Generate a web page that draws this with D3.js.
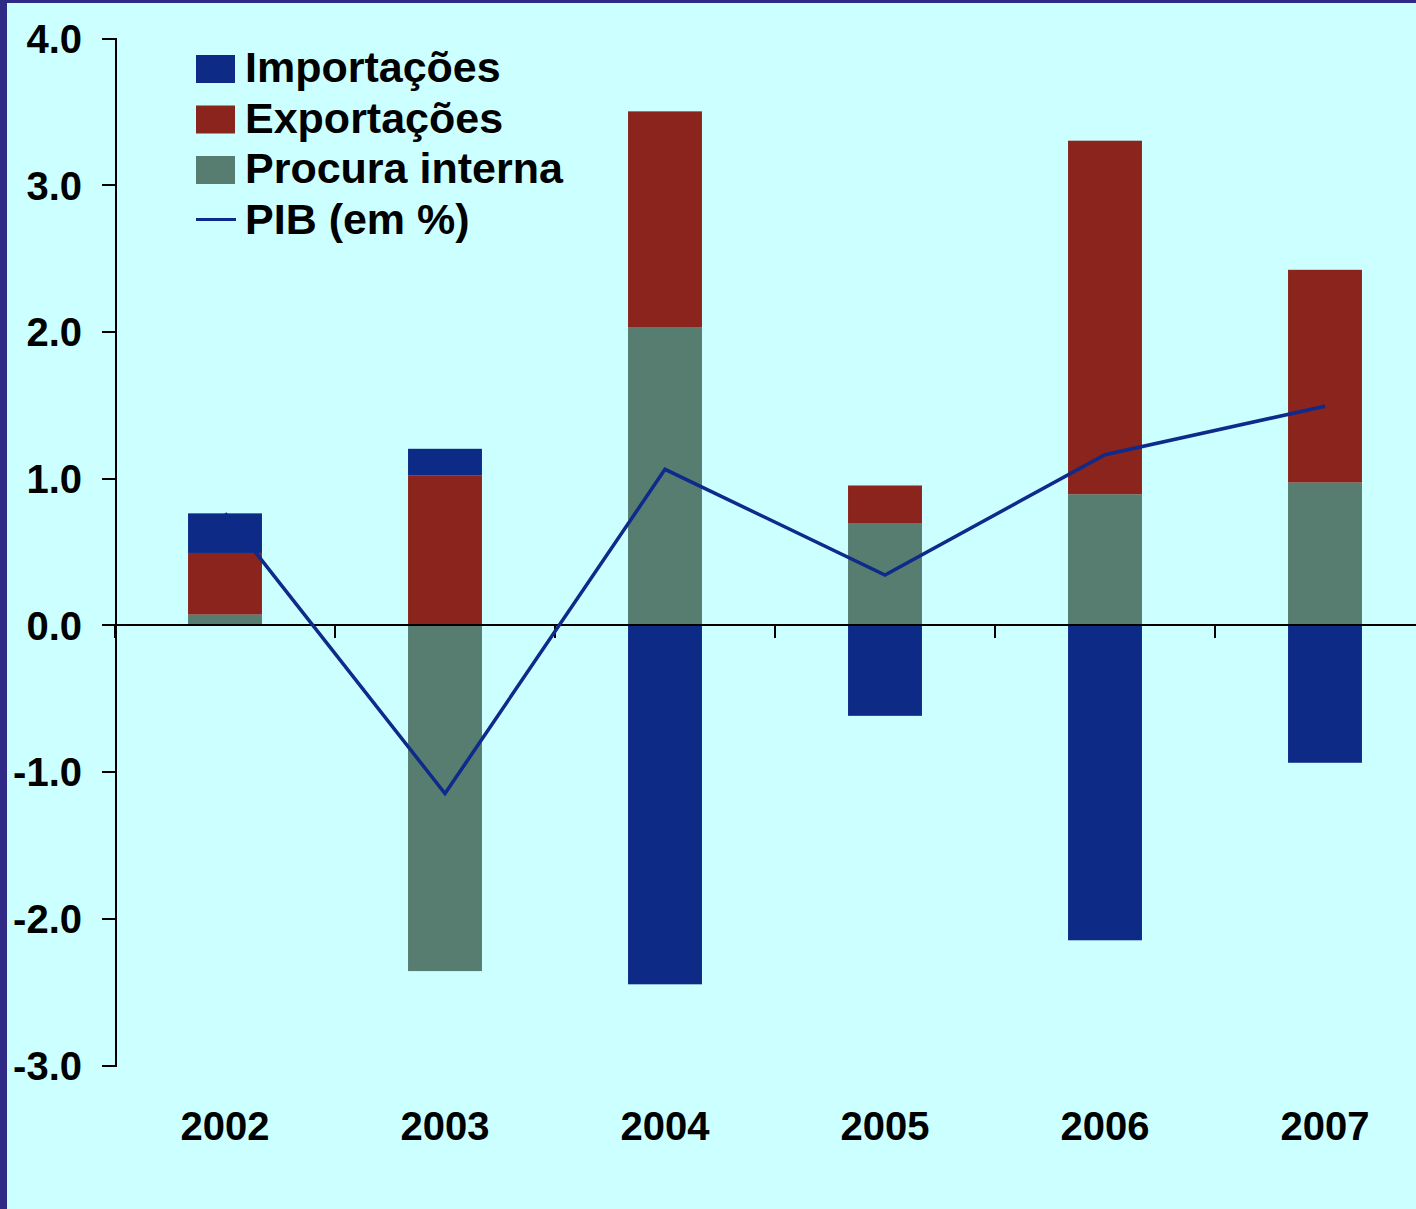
<!DOCTYPE html>
<meta charset="utf-8">
<style>
body { margin: 0; background: #ccffff; }
svg { display: block; font-family: "Liberation Sans", Arial, sans-serif; font-weight: bold; }
.axis path, .axis line { stroke: #000; stroke-width: 2px; fill: none; shape-rendering: crispEdges; }
.axis text { font-size: 40px; font-weight: bold; fill: #000; font-family: "Liberation Sans", Arial, sans-serif; }
</style>
<body>
<div id="chart"></div>
</body>
<script src="https://d3js.org/d3.v7.min.js"></script>
<script>

// data
var years = ["2002", "2003", "2004", "2005", "2006", "2007"];
var procura = [0.07, -2.36, 2.03, 0.69, 0.89, 0.97];
var exportacoes = [0.42, 1.02, 1.47, 0.26, 2.41, 1.45];
var importacoes = [0.27, 0.18, -2.45, -0.62, -2.15, -0.94];
var pib = [0.76, -1.15, 1.06, 0.34, 1.16, 1.49];
var yTicks = [-3, -2, -1, 0, 1, 2, 3, 4];

var seriesKeys = ["procura", "exportacoes", "importacoes"];
var colors = {procura: "#577d70", exportacoes: "#8a241d", importacoes: "#0e2a87"};

var W = 1416, H = 1209;

var table = years.map(function(y, i) {
  return {year: y, procura: procura[i], exportacoes: exportacoes[i], importacoes: importacoes[i], pib: pib[i]};
});

var x = d3.scaleBand().domain(years).range([115, 1435]).padding(0);
var y = d3.scaleLinear().domain([-3, 4]).range([1065, 38]);
var barW = x.bandwidth() * 0.336;

var svg = d3.select("#chart").append("svg")
    .attr("width", W)
    .attr("height", H);

// background and frame
svg.append("rect").attr("width", W).attr("height", H).attr("fill", "#ccffff");
svg.append("rect").attr("x", 0).attr("y", 0).attr("width", 7).attr("height", H).attr("fill", "#2e2a85");
svg.append("rect").attr("x", 0).attr("y", 0).attr("width", W).attr("height", 3).attr("fill", "#2e2a85");

// stacked bars (positive and negative stacks)
var stack = d3.stack().keys(seriesKeys).offset(d3.stackOffsetDiverging);
var layers = stack(table);

svg.selectAll("g.layer")
    .data(layers)
  .enter().append("g")
    .attr("class", "layer")
    .attr("fill", function(d) { return colors[d.key]; })
  .selectAll("rect")
    .data(function(d) { return d; })
  .enter().append("rect")
    .attr("x", function(d) { return x(d.data.year) + (x.bandwidth() - barW) / 2; })
    .attr("width", barW)
    .attr("y", function(d) { return y(Math.max(d[0], d[1])); })
    .attr("height", function(d) { return Math.abs(y(d[0]) - y(d[1])); });

// y axis
svg.append("g")
    .attr("class", "axis y")
    .attr("transform", "translate(115,0)")
    .call(d3.axisLeft(y).tickValues(yTicks).tickSize(13).tickPadding(20)
      .tickFormat(function(d) { return d.toFixed(1); }))
  .selectAll("text")
    .attr("dy", "0.36em");

// x axis at zero
var xAxis = svg.append("g").attr("class", "axis x");
xAxis.append("line")
    .attr("x1", 115).attr("x2", W)
    .attr("y1", y(0)).attr("y2", y(0));
xAxis.selectAll("line.tick")
    .data(years)
  .enter().append("line")
    .attr("class", "tick")
    .attr("x1", function(d) { return x(d); })
    .attr("x2", function(d) { return x(d); })
    .attr("y1", y(0))
    .attr("y2", y(0) + 13);
xAxis.selectAll("text")
    .data(years)
  .enter().append("text")
    .attr("x", function(d) { return x(d) + x.bandwidth() / 2; })
    .attr("y", 1140)
    .attr("text-anchor", "middle")
    .text(function(d) { return d; });

// PIB line
var line = d3.line()
    .x(function(d) { return x(d.year) + x.bandwidth() / 2; })
    .y(function(d) { return y(d.pib); });

svg.append("path")
    .datum(table)
    .attr("fill", "none")
    .attr("stroke", "#0e2a8a")
    .attr("stroke-width", 3.5)
    .attr("stroke-linejoin", "miter")
    .attr("d", line);

// legend
var legendItems = [
  {label: "Importações", key: "importacoes", type: "rect"},
  {label: "Exportações", key: "exportacoes", type: "rect"},
  {label: "Procura interna", key: "procura", type: "rect"},
  {label: "PIB (em %)", key: "pib", type: "line"}
];

var legend = svg.append("g")
    .attr("transform", "translate(196,55)")
  .selectAll("g")
    .data(legendItems)
  .enter().append("g")
    .attr("transform", function(d, i) { return "translate(0," + i * 50.5 + ")"; });

legend.filter(function(d) { return d.type == "rect"; })
  .append("rect")
    .attr("width", 39)
    .attr("height", 28)
    .attr("fill", function(d) { return colors[d.key]; });

legend.filter(function(d) { return d.type == "line"; })
  .append("line")
    .attr("x1", 0).attr("x2", 40)
    .attr("y1", 13).attr("y2", 13)
    .attr("stroke", "#0e2a8a")
    .attr("stroke-width", 3);

legend.append("text")
    .attr("x", 49)
    .attr("y", 27)
    .style("font-size", "43px")
    .style("font-weight", "bold")
    .text(function(d) { return d.label; });

</script>
